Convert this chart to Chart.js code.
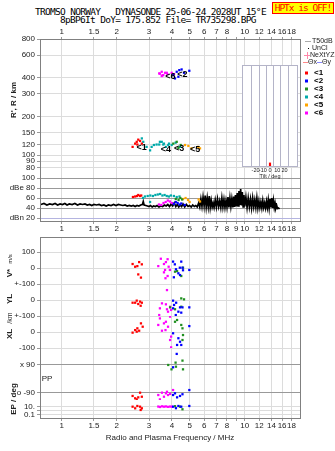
<!DOCTYPE html>
<html>
<head>
<meta charset="utf-8">
<script src="https://cdn.jsdelivr.net/npm/chart.js@4.4.1/dist/chart.umd.min.js"></script>
<style>
  body { margin: 0; background: #fff; }
  #page { position: relative; width: 335px; height: 451px; overflow: hidden; }
  canvas { position: absolute; left: 0; top: 0; }
  .hdr { position: absolute; font: 9.5px "DejaVu Sans Mono", monospace; line-height: 10px;
         letter-spacing: -0.7px; white-space: pre; color: #000; }
  #hptx { left: 272px; top: 2px; width: 62px; height: 12px; box-sizing: border-box; text-align: center;
          letter-spacing: -1px; background: #ffff00; border: 1px solid #ff0000; color: #ff0000; }
</style>
</head>
<body>
<div id="page">
  <div class="hdr" style="left:35px;top:7px">TROMSO NORWAY   DYNASONDE 25-06-24 2028UT 15°E</div>
  <div class="hdr" style="left:60px;top:15px">8pBP6It DoY= 175.852 File= TR735298.BPG</div>
  <div class="hdr" id="hptx">HPTx is OFF!</div>
  <canvas id="upper" width="335" height="451"></canvas>
  <canvas id="lower" width="335" height="451"></canvas>
  <canvas id="tilt" width="335" height="451"></canvas>
</div>
<script>
// ---- frequency axis (MHz) ----
const freqTicks = [1, 1.5, 2, 3, 4, 5, 6, 7, 8, 9, 10, 12, 14, 16, 18];
const freqLabelsOuter = [1, 1.5, 2, 3, 4, 5, 6, 7, 8, 10, 12, 14, 16, 18];
const freqLabelsMid = [1, 1.5, 2, 3, 4, 5, 6, 7, 8, 9, 10, 12, 14, 16, 18];
const F_MIN = 0.761, F_MAX = 20.3;

// ---- virtual range R' (km) per echo mode, [MHz, km] ----
const rangeTicks = [80, 90, 100, 120, 150, 200, 300, 400, 600, 800];
const rMode1 = [[2.44,116],[2.52,123],[2.57,127],[2.59,121],[2.62,132],[2.68,129],[2.74,123]];
const rMode2 = [[4.07,419],[4.16,395],[4.25,445],[4.34,407],[4.39,458],[4.52,464],[4.66,437],[4.98,453]];
const rMode3 = [[4.07,123],[4.25,127],[4.34,114],[4.47,120]];
const rMode4 = [[2.74,135],[2.79,127],[2.91,116],[3.04,109],[3.10,116],[3.19,120],[3.30,121],[3.41,121],
                [3.44,127],[3.52,127],[3.59,121],[3.62,123],[3.71,116],[3.82,120],[3.86,123],[3.99,120],
                [4.19,125],[4.43,116]];
const rMode5 = [[4.72,120],[4.92,118],[5.12,113],[5.57,116],[5.70,113]];
const rMode6 = [[3.41,432],[3.44,430],[3.52,412],[3.52,445],[3.56,419],[3.59,419],[3.67,437],[3.75,437],
                [3.78,427],[3.99,437],[4.11,427]];

// mode tags written next to the traces
const modeTags = ['<1', '<2', '<3', '<4', '<5', '<6'];
const tagFreq = [2.73, 4.57, 4.38, 3.71, 5.35, 3.93];
const tagRange = [114, 424, 113, 111, 111, 407];

// ---- amplitude (dB) ----
const dbTicks = [20, 40, 60, 80, 100];
const dbTickText = ['dBn 20', '40', '60', 'dBe 80', '100'];
const dbNoise = [
  [0.77,47],[0.80,49],[0.83,46],[0.86,48],[0.89,47],[0.92,49],[0.95,46],[0.98,48],[1.01,47],[1.04,49],
  [1.07,46],[1.10,48],[1.14,47],[1.18,49],[1.22,46],[1.26,48],[1.30,47],[1.34,48],[1.38,46],[1.42,47],
  [1.46,45],[1.50,47],[1.55,46],[1.60,47],[1.65,45],[1.70,46],[1.75,44],[1.80,46],[1.86,45],[1.92,47],
  [1.98,45],[2.04,47],[2.10,46],[2.16,45],[2.22,46],[2.28,44],[2.34,45],[2.40,44],[2.46,45],[2.52,43],
  [2.58,45],[2.64,44],[2.70,46],[2.76,47],[2.79,53],[2.82,46],[2.88,45],[2.94,44],
  [3.00,43],[3.06,45],[3.12,42],[3.18,44],[3.25,43],[3.32,45],[3.40,42],[3.48,44],[3.56,43],[3.64,46],
  [3.72,44],[3.80,47],[3.88,43],[3.96,48],[4.04,44],[4.12,50],[4.20,43],[4.28,47],[4.36,42],[4.44,46],
  [4.52,43],[4.60,48],[4.70,42],[4.80,47],[4.90,43],[5.00,45],[5.10,42],[5.20,46],[5.30,43],[5.40,45],
  [5.50,42],[5.60,50],[5.68,42],[5.76,58],[5.84,43],[5.92,62],[6.00,44],[6.08,65],[6.16,42],[6.24,60],
  [6.32,43],[6.40,64],[6.48,41],[6.56,55],[6.64,42],[6.72,50],[6.80,41],[6.90,56],[7.00,42],[7.10,58],
  [7.20,43],[7.30,54],[7.40,41],[7.50,60],[7.60,42],[7.70,57],[7.80,41],[7.90,55],[8.00,42],[8.10,62],
  [8.20,41],[8.30,60],[8.40,43],[8.50,58],[8.60,41],[8.70,63],[8.80,42],[8.90,66],[9.00,43],[9.10,70],
  [9.20,44],[9.30,74],[9.40,46],[9.50,78],[9.60,45],[9.70,72],[9.80,42],[9.90,66],[10.0,43],[10.15,62],
  [10.3,41],[10.45,60],[10.6,42],[10.75,58],[10.9,40],[11.05,60],[11.2,42],[11.35,56],[11.5,41],[11.65,60],
  [11.8,40],[11.95,54],[12.1,41],[12.25,52],[12.4,40],[12.55,55],[12.7,41],[12.85,50],[13.0,40],[13.15,53],
  [13.3,41],[13.45,56],[13.6,40],[13.75,58],[13.9,41],[14.05,60],[14.2,40],[14.35,55],[14.5,41],[14.65,50],
  [14.8,40],[14.95,45],[15.1,39],[15.3,40],[15.5,38]
];
const dbMode1 = [[2.45,62],[2.52,63],[2.58,64],[2.62,66],[2.68,64],[2.72,65]];
const dbMode2 = [[4.10,48],[4.20,52],[4.30,50],[4.40,47],[4.50,49],[4.70,46]];
const dbMode3 = [[4.20,58],[4.35,56],[4.45,60],[4.55,57]];
const dbMode4 = [[2.78,60],[2.85,63],[2.95,64],[3.04,52],[3.05,65],[3.15,64],[3.25,66],[3.35,67],[3.45,68],
                 [3.55,65],[3.65,66],[3.75,64],[3.85,63],[3.95,65],[4.10,64],[4.25,62],[4.40,63]];
const dbMode5 = [[4.60,58],[4.75,60],[4.90,56],[5.00,52],[5.60,57],[5.70,53]];
const dbMode6 = [[3.40,47],[3.50,46],[3.60,50],[3.70,52],[3.80,55],[3.90,53],[4.00,50]];

// ---- Doppler velocity V* (m/s) ----
const vTicks = [100, 0, -100];
const vTickText = ['100', '0', '+-100'];
const vMode1 = [[2.44,25],[2.52,8],[2.59,12],[2.62,-40],[2.65,37],[2.71,-60],[2.74,23]];
const vMode2 = [[4.06,40],[4.10,-58],[4.15,23],[4.21,-8],[4.34,-33],[4.42,2],[4.43,-44],[4.50,40],[4.57,2],[4.60,-14],[4.98,-12]];
const vMode3 = [[4.16,-23],[4.27,-19],[4.50,-50],[4.60,2]];
const vMode6 = [[3.37,12],[3.48,58],[3.62,25],[3.62,-27],[3.67,-12],[3.69,-64],[3.71,37],[3.79,55],[3.79,-50],[3.84,8],[3.90,-12]];

// ---- echo location YL / XL (km) ----
const ylTicks = [0, -100];
const ylTickText = ['0', '+-100'];
const ylMode1 = [[2.44,-17],[2.52,-17],[2.57,-4],[2.62,-25],[2.68,-10],[2.70,-36],[2.74,-17]];
const ylMode2 = [[4.06,-4],[4.06,-52],[4.11,-31],[4.20,-94],[4.22,-17],[4.34,-73],[4.43,-46],[4.50,-79],[4.57,-46],[4.98,-46]];
const ylMode3 = [[3.91,-46],[4.16,-58],[4.50,10],[4.50,-42],[4.66,4]];
const ylMode6 = [[3.41,-94],[3.44,-52],[3.53,-21],[3.71,-27],[3.76,-58],[3.76,62],[3.81,-73],[3.91,-42],[3.96,-62]];

const xlTicks = [0, -100];
const xlTickText = ['0', '-100'];
const xlMode1 = [[2.44,-4],[2.52,12],[2.57,2],[2.59,23],[2.65,8],[2.71,54],[2.77,33]];
const xlMode2 = [[4.06,-8],[4.27,-81],[4.34,-39],[4.43,-61],[4.50,-81],[4.98,37]];
const xlMode3 = [[4.16,64],[4.27,75],[4.50,44],[4.57,23],[4.57,-50],[4.60,-19]];
const xlMode6 = [[3.37,44],[3.44,85],[3.53,8],[3.62,54],[3.69,12],[3.71,64],[3.81,33],[3.91,96],[3.91,-50],[3.96,-29],[3.96,-96]];

// ---- polarization PP (deg) ----
const ppTicks = [90, -90];
const ppTickText = ['x 90', 'o -90'];
const ppMode1 = [[2.44,-109],[2.52,-124],[2.57,-131],[2.62,-118],[2.68,-88],[2.74,-114]];
const ppMode2 = [[4.06,-103],[4.06,75],[4.16,-92],[4.25,161],[4.27,-118],[4.43,-109],[4.57,-98],[4.98,-71]];
const ppMode3 = [[3.82,90],[3.98,62],[4.19,105],[4.21,79],[4.57,118],[4.60,62]];
const ppMode6 = [[3.37,-103],[3.44,-131],[3.53,-88],[3.62,-114],[3.71,-92],[3.76,-82],[3.81,-103],[3.91,-96],[4.06,-71]];

// ---- EP (deg), log ----
const epTicks = [10, 1, 0.1];
const epTickText = ['10.', '', '0.1'];
const epMode1 = [[2.44,12],[2.52,4.7],[2.59,18],[2.68,12],[2.70,1.8],[2.74,4.7]];
const epMode2 = [[4.06,12],[4.21,5],[4.34,18],[4.50,12],[4.98,18]];
const epMode3 = [[4.16,16],[4.43,12],[4.57,2.7]];
const epMode6 = [[3.37,13],[3.44,10],[3.53,15],[3.62,12],[3.71,14],[3.81,11],[3.91,13],[4.00,12]];

// ---- tilt histogram ----
const tiltTicks = [-20, -10, 0, 10, 20];
const tiltDeg = [0];
const tiltCount = [4];

const modeColors = ['#ff0000', '#0000ff', '#1f8f1f', '#00aaaa', '#ffa500', '#ff00ff'];
const FONT = '"Liberation Sans", Arial, sans-serif';

function xy(pairs) { return pairs.map(p => ({x: p[0], y: p[1]})); }

function dots(pairs, color, axisId) {
  return {
    data: xy(pairs), yAxisID: axisId,
    pointStyle: 'rect', pointRadius: 1.6, pointBorderWidth: 0,
    backgroundColor: color, borderColor: color
  };
}

function fixedTicks(values) {
  return s => { s.ticks = values.map(v => ({value: v})); };
}

function freqAxis(position, labelled, height, onArea) {
  return {
    type: 'logarithmic', position: position, min: F_MIN, max: F_MAX,
    afterBuildTicks: fixedTicks(freqTicks),
    afterFit: s => { s.height = height; },
    ticks: {
      autoSkip: false, maxRotation: 0, padding: 0, color: '#222',
      font: {family: FONT, size: 8},
      callback: v => labelled.includes(v) ? String(v) : ''
    },
    grid: {color: '#dcdcdc', drawOnChartArea: onArea, tickLength: 2, tickColor: '#999'},
    border: {display: false}
  };
}

function leftAxis(extra, values, texts, gridColor) {
  return Object.assign({
    position: 'left',
    afterBuildTicks: fixedTicks(values),
    afterFit: s => { s.width = 40; },
    ticks: {
      autoSkip: false, padding: 2, color: '#222', font: {family: FONT, size: 8},
      callback: (v, i) => texts[i]
    },
    grid: {color: gridColor || '#dcdcdc', tickLength: 3, tickColor: '#999'},
    border: {display: false}
  }, extra);
}

// rectangle round the plot area
function frame(color) {
  return {
    id: 'frame',
    afterDraw(chart) {
      const a = chart.chartArea, ctx = chart.ctx;
      ctx.save();
      ctx.strokeStyle = color;
      ctx.lineWidth = 1;
      ctx.strokeRect(Math.round(a.left) + 0.5, Math.round(a.top) + 0.5,
                     Math.round(a.right - a.left) - 1, Math.round(a.bottom - a.top) - 1);
      ctx.restore();
    }
  };
}

// free text (axis names etc.) in canvas pixels
function textLayer(items) {
  return {
    id: 'textLayer',
    afterDraw(chart) {
      const ctx = chart.ctx;
      items.forEach(n => {
        ctx.save();
        ctx.font = n.font || ('8px ' + FONT);
        ctx.fillStyle = n.color || '#222';
        ctx.textAlign = n.align || 'center';
        ctx.textBaseline = 'middle';
        ctx.translate(n.x, n.y);
        if (n.rot) ctx.rotate(n.rot * Math.PI / 180);
        ctx.fillText(n.t, 0, 0);
        ctx.restore();
      });
    }
  };
}

// mode numbers beside the R' traces
const modeTagLayer = {
  id: 'modeTags',
  afterDatasetsDraw(chart) {
    const ctx = chart.ctx, sx = chart.scales.x, sy = chart.scales.yR;
    ctx.save();
    ctx.font = 'bold 9px ' + FONT;
    ctx.fillStyle = '#000';
    ctx.textAlign = 'center';
    ctx.textBaseline = 'middle';
    modeTags.forEach((t, i) => {
      ctx.fillText(t, sx.getPixelForValue(tagFreq[i]), sy.getPixelForValue(tagRange[i]));
    });
    ctx.restore();
  }
};

// key on the right of the upper panel
const keyLayer = {
  id: 'key',
  afterDraw(chart) {
    const ctx = chart.ctx;
    ctx.save();
    ctx.font = '7px ' + FONT;
    ctx.textBaseline = 'middle';
    ctx.textAlign = 'left';
    ctx.lineWidth = 1;
    // T50dB
    ctx.strokeStyle = '#aaaaaa';
    ctx.beginPath(); ctx.moveTo(305, 41.5); ctx.lineTo(311, 41.5); ctx.stroke();
    ctx.fillStyle = '#222'; ctx.fillText('T50dB', 312, 41);
    // UnCl
    ctx.fillStyle = '#000'; ctx.fillRect(308, 48, 1, 1);
    ctx.fillStyle = '#222'; ctx.fillText('UnCl', 312, 48);
    // NeXtYZ
    ctx.strokeStyle = '#ff88aa';
    ctx.beginPath(); ctx.moveTo(304, 55.5); ctx.lineTo(310, 55.5); ctx.moveTo(307.5, 52); ctx.lineTo(307.5, 59); ctx.stroke();
    ctx.fillStyle = '#222'; ctx.fillText('NeXtYZ', 310, 55);
    // theta x / theta y
    ctx.strokeStyle = '#ff8888';
    ctx.beginPath(); ctx.moveTo(303, 62.5); ctx.lineTo(308, 62.5); ctx.stroke();
    ctx.fillText('\u0398x', 308, 62);
    ctx.strokeStyle = '#8888ff';
    ctx.beginPath(); ctx.moveTo(317, 62.5); ctx.lineTo(322, 62.5); ctx.stroke();
    ctx.fillText('\u0398y', 322, 62);
    // echo modes
    ctx.font = 'bold 8px ' + FONT;
    modeTags.forEach((t, i) => {
      const y = 73 + i * 8;
      ctx.fillStyle = modeColors[i];
      ctx.fillRect(305, y - 1.5, 3, 3);
      ctx.fillStyle = '#000';
      ctx.fillText(t, 314, y);
    });
    ctx.restore();
  }
};

const quiet = {legend: {display: false}, tooltip: {enabled: false}};

// ---- upper panel: R' and amplitude ----
const upperSets = [
  dots(rMode1, modeColors[0], 'yR'), dots(rMode2, modeColors[1], 'yR'), dots(rMode3, modeColors[2], 'yR'),
  dots(rMode4, modeColors[3], 'yR'), dots(rMode5, modeColors[4], 'yR'), dots(rMode6, modeColors[5], 'yR'),
  dots(dbMode1, modeColors[0], 'yDb'), dots(dbMode2, modeColors[1], 'yDb'), dots(dbMode3, modeColors[2], 'yDb'),
  dots(dbMode4, modeColors[3], 'yDb'), dots(dbMode5, modeColors[4], 'yDb'), dots(dbMode6, modeColors[5], 'yDb'),
  {data: xy(dbNoise), yAxisID: 'yDb', showLine: true, borderColor: '#000', borderWidth: 1.7, pointRadius: 0}
];

new Chart(document.getElementById('upper'), {
  type: 'scatter',
  data: {datasets: upperSets},
  options: {
    responsive: false, animation: false,
    layout: {padding: {top: 26, left: 0, right: 34, bottom: 215}},
    plugins: quiet,
    scales: {
      x: freqAxis('top', freqLabelsOuter, 13, true),
      xb: freqAxis('bottom', freqLabelsMid, 14, false),
      yR: leftAxis({type: 'logarithmic', min: 74, max: 800, stack: 'up', stackWeight: 133, weight: 2},
                   rangeTicks, rangeTicks.map(String)),
      yDb: leftAxis({type: 'linear', min: 12, max: 112, stack: 'up', stackWeight: 50, weight: 1},
                    dbTicks, dbTickText, c => c.tick && c.tick.value === 20 ? '#b4b4e0' : '#999999')
    }
  },
  plugins: [frame('#808080'), modeTagLayer, keyLayer,
    textLayer([{t: "R', R / km", x: 14, y: 100, rot: -90, font: 'bold 8px ' + FONT}])]
});

// ---- lower panel: V*, YL, XL, PP, EP ----
const lowerSets = [
  dots(vMode1, modeColors[0], 'yV'), dots(vMode2, modeColors[1], 'yV'), dots(vMode3, modeColors[2], 'yV'), dots(vMode6, modeColors[5], 'yV'),
  dots(ylMode1, modeColors[0], 'yYL'), dots(ylMode2, modeColors[1], 'yYL'), dots(ylMode3, modeColors[2], 'yYL'), dots(ylMode6, modeColors[5], 'yYL'),
  dots(xlMode1, modeColors[0], 'yXL'), dots(xlMode2, modeColors[1], 'yXL'), dots(xlMode3, modeColors[2], 'yXL'), dots(xlMode6, modeColors[5], 'yXL'),
  dots(ppMode1, modeColors[0], 'yPP'), dots(ppMode2, modeColors[1], 'yPP'), dots(ppMode3, modeColors[2], 'yPP'), dots(ppMode6, modeColors[5], 'yPP'),
  dots(epMode1, modeColors[0], 'yEP'), dots(epMode2, modeColors[1], 'yEP'), dots(epMode3, modeColors[2], 'yEP'), dots(epMode6, modeColors[5], 'yEP')
];

new Chart(document.getElementById('lower'), {
  type: 'scatter',
  data: {datasets: lowerSets},
  options: {
    responsive: false, animation: false,
    layout: {padding: {top: 237, left: 0, right: 34, bottom: 18}},
    plugins: quiet,
    scales: {
      x: freqAxis('bottom', freqLabelsOuter, 14, true),
      yV: leftAxis({type: 'linear', min: -100, max: 194, stack: 'low', stackWeight: 47, weight: 5}, vTicks, vTickText),
      yYL: leftAxis({type: 'linear', min: -100, max: 100, stack: 'low', stackWeight: 32, weight: 4}, ylTicks, ylTickText),
      yXL: leftAxis({type: 'linear', min: -100, max: 100, stack: 'low', stackWeight: 32, weight: 3}, xlTicks, xlTickText),
      yPP: leftAxis({type: 'linear', min: -135, max: 199, stack: 'low', stackWeight: 52, weight: 2}, ppTicks, ppTickText, '#999999'),
      yEP: leftAxis({type: 'logarithmic', min: 0.01, max: 562, stack: 'low', stackWeight: 19, weight: 1}, epTicks, epTickText)
    }
  },
  plugins: [frame('#808080'), textLayer([
    {t: 'V*', x: 10, y: 273, rot: -90, font: 'bold 8px ' + FONT},
    {t: 'm/s', x: 10, y: 259, rot: -90, font: '6px ' + FONT},
    {t: 'YL', x: 10, y: 299, rot: -90, font: 'bold 8px ' + FONT},
    {t: '/km', x: 10, y: 318, rot: -90, font: '7px ' + FONT},
    {t: 'XL', x: 10, y: 334, rot: -90, font: 'bold 8px ' + FONT},
    {t: 'PP', x: 47, y: 379, font: '8px ' + FONT},
    {t: 'EP / deg', x: 14, y: 399, rot: -90, font: 'bold 8px ' + FONT},
    {t: 'Radio and Plasma Frequency / MHz', x: 170, y: 438, font: '8px ' + FONT}
  ])]
});

// ---- tilt inset ----
new Chart(document.getElementById('tilt'), {
  type: 'bar',
  data: {datasets: [{
    data: tiltDeg.map((d, i) => ({x: d, y: tiltCount[i]})),
    backgroundColor: '#ff0000', barThickness: 1.5
  }]},
  options: {
    responsive: false, animation: false,
    layout: {padding: {top: 65, left: 242, right: 37, bottom: 278}},
    plugins: quiet,
    scales: {
      x: {
        type: 'linear', min: -31, max: 31,
        afterBuildTicks: fixedTicks(tiltTicks),
        afterFit: s => { s.height = 6; },
        ticks: {autoSkip: false, maxRotation: 0, padding: 0, color: '#222', font: {family: FONT, size: 5.5}},
        grid: {color: '#b4b4c8', drawTicks: false},
        border: {display: false}
      },
      y: {display: false, min: 0, max: 100}
    }
  },
  plugins: [{
    id: 'insetBg',
    beforeDraw(chart) {
      const a = chart.chartArea, ctx = chart.ctx;
      ctx.save();
      ctx.fillStyle = '#fff';
      ctx.fillRect(a.left, a.top, a.right - a.left, a.bottom - a.top);
      ctx.restore();
    }
  }, frame('#b4b4c8'), textLayer([{t: 'Tilt / deg', x: 270, y: 176, font: '5.5px ' + FONT}])]
});
</script>
</body>
</html>
